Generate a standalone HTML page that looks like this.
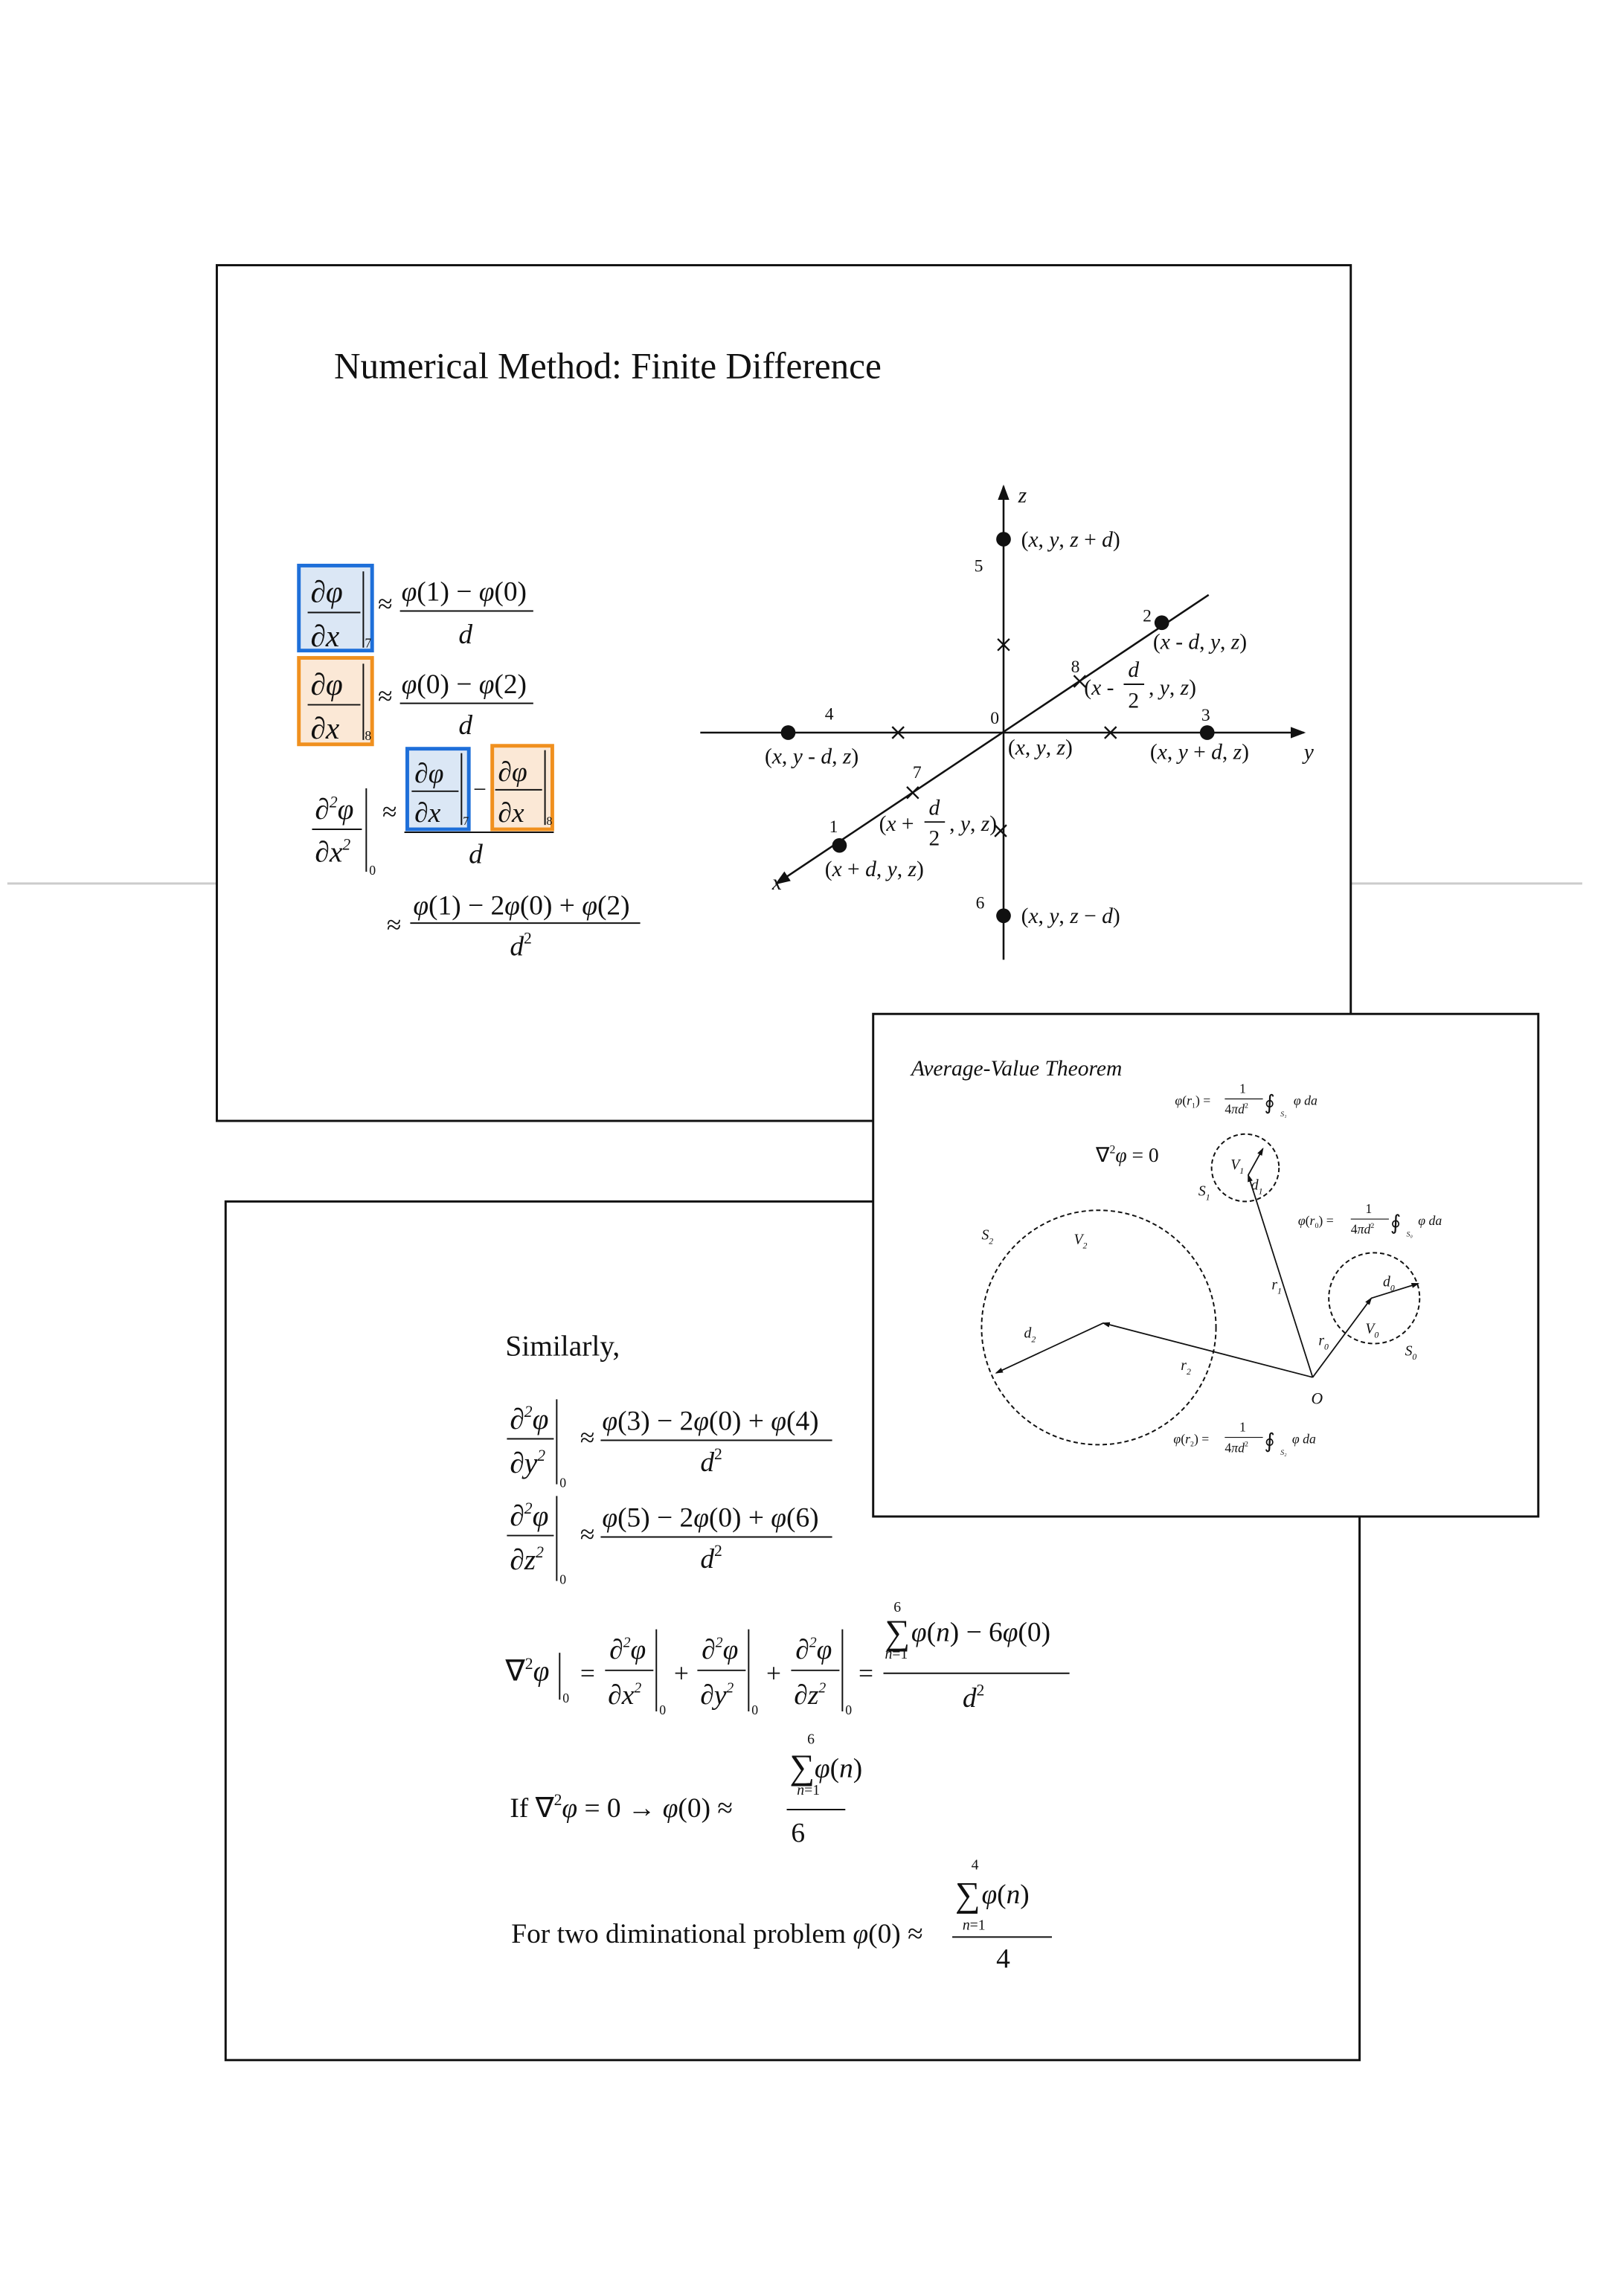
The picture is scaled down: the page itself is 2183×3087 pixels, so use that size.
<!DOCTYPE html>
<html><head><meta charset="utf-8"><title>Finite Difference</title>
<style>
html,body{margin:0;padding:0;background:#fff;}
svg{display:block;}
text{font-family:"Liberation Serif",serif;fill:#111;}
.i{font-style:italic;}
</style></head>
<body>
<svg width="2183" height="3087" viewBox="0 0 1108.5 1567" preserveAspectRatio="none" xmlns="http://www.w3.org/2000/svg">
<defs>
<marker id="ar" markerWidth="8" markerHeight="8" refX="7" refY="4" orient="auto"><path d="M0,1 L8,4 L0,7 z" fill="#111"/></marker>
<marker id="as" markerWidth="6" markerHeight="6" refX="5" refY="3" orient="auto"><path d="M0,1 L6,3 L0,5 z" fill="#111"/></marker>
</defs>
<rect width="1110" height="1570" fill="#fff"/>
<line x1="5" y1="603" x2="1080" y2="603" stroke="#ccc" stroke-width="1.5"/>

<g>
<rect x="148" y="181" width="774" height="584" fill="#fff" stroke="#111" stroke-width="1.5"/>
<text x="228" y="258" font-size="25">Numerical Method: Finite Difference</text>

<g>
<rect x="204" y="386" width="50" height="58" fill="#dbe7f5" stroke="#1e6fd9" stroke-width="2.5"/>
<text x="212" y="411" font-size="21" class="i">∂φ</text><line x1="210" y1="418" x2="246" y2="418" stroke="#111"/>
<text x="212" y="441" font-size="21" class="i">∂x</text><line x1="248" y1="390" x2="248" y2="442" stroke="#111"/><text x="249" y="442" font-size="9">7</text>
<text x="258" y="418" font-size="18">≈</text>
<text x="274" y="410" font-size="19"><tspan class="i">φ</tspan>(1) − <tspan class="i">φ</tspan>(0)</text>
<line x1="273" y1="417" x2="364" y2="417" stroke="#111"/><text x="313" y="439" font-size="19" class="i">d</text>
</g>
<g>
<rect x="204" y="449" width="50" height="59" fill="#fbe8d6" stroke="#f0901e" stroke-width="2.5"/>
<text x="212" y="474" font-size="21" class="i">∂φ</text><line x1="210" y1="481" x2="246" y2="481" stroke="#111"/>
<text x="212" y="504" font-size="21" class="i">∂x</text><line x1="248" y1="453" x2="248" y2="505" stroke="#111"/><text x="249" y="505" font-size="9">8</text>
<text x="258" y="481" font-size="18">≈</text>
<text x="274" y="473" font-size="19"><tspan class="i">φ</tspan>(0) − <tspan class="i">φ</tspan>(2)</text>
<line x1="273" y1="480" x2="364" y2="480" stroke="#111"/><text x="313" y="501" font-size="19" class="i">d</text>
</g>
<g>
<text x="215" y="559" font-size="20" class="i">∂<tspan font-size="11" dy="-8">2</tspan><tspan dy="8">φ</tspan></text>
<line x1="213" y1="566" x2="247" y2="566" stroke="#111"/>
<text x="215" y="588" font-size="20" class="i">∂x<tspan font-size="11" dy="-8">2</tspan></text>
<line x1="250" y1="538" x2="250" y2="595" stroke="#111"/><text x="252" y="597" font-size="9">0</text>
<text x="261" y="560" font-size="18">≈</text>
<rect x="278" y="511" width="42" height="55" fill="#dbe7f5" stroke="#1e6fd9" stroke-width="2.5"/>
<text x="283" y="534" font-size="19" class="i">∂φ</text><line x1="281" y1="540" x2="313" y2="540" stroke="#111"/>
<text x="283" y="561" font-size="19" class="i">∂x</text><line x1="315" y1="514" x2="315" y2="563" stroke="#111"/><text x="316" y="563" font-size="8">7</text>
<text x="323" y="544" font-size="16">−</text>
<rect x="336" y="509" width="41" height="57" fill="#fbe8d6" stroke="#f0901e" stroke-width="2.5"/>
<text x="340" y="533" font-size="19" class="i">∂φ</text><line x1="338" y1="539" x2="370" y2="539" stroke="#111"/>
<text x="340" y="561" font-size="19" class="i">∂x</text><line x1="372" y1="512" x2="372" y2="563" stroke="#111"/><text x="373" y="563" font-size="8">8</text>
<line x1="276" y1="568" x2="378" y2="568" stroke="#111"/><text x="320" y="589" font-size="19" class="i">d</text>
</g>
<g>
<text x="264" y="637" font-size="18">≈</text>
<text x="282" y="624" font-size="19"><tspan class="i">φ</tspan>(1) − 2<tspan class="i">φ</tspan>(0) + <tspan class="i">φ</tspan>(2)</text>
<line x1="280" y1="630" x2="437" y2="630" stroke="#111"/>
<text x="348" y="652" font-size="19" class="i">d<tspan font-size="11" dy="-8" font-style="normal">2</tspan></text>
</g>

<g>
<line x1="478" y1="500" x2="890" y2="500" stroke="#111" stroke-width="1.3" marker-end="url(#ar)"/>
<line x1="685" y1="655" x2="685" y2="332" stroke="#111" stroke-width="1.3" marker-end="url(#ar)"/>
<line x1="825" y1="406" x2="530" y2="603" stroke="#111" stroke-width="1.3" marker-end="url(#ar)"/>
<text x="695" y="343" font-size="15" class="i">z</text>
<text x="890" y="518" font-size="15" class="i">y</text>
<text x="527" y="607" font-size="15" class="i">x</text>
<g fill="#111">
<circle cx="685" cy="368" r="5"/><circle cx="793" cy="425" r="5"/><circle cx="824" cy="500" r="5"/>
<circle cx="538" cy="500" r="5"/><circle cx="573" cy="577" r="5"/><circle cx="685" cy="625" r="5"/>
</g>
<g stroke="#111" stroke-width="1.2">
<path d="M609,496 l8,8 M617,496 l-8,8"/><path d="M754,496 l8,8 M762,496 l-8,8"/>
<path d="M681,436 l8,8 M689,436 l-8,8"/><path d="M733,461 l8,8 M741,461 l-8,8"/>
<path d="M619,537 l8,8 M627,537 l-8,8"/><path d="M679,563 l8,8 M687,563 l-8,8"/>
</g>
<g font-size="12"><text x="665" y="390">5</text><text x="780" y="424">2</text><text x="731" y="459">8</text>
<text x="820" y="492">3</text><text x="563" y="491">4</text><text x="676" y="494">0</text>
<text x="623" y="531">7</text><text x="566" y="568">1</text><text x="666" y="620">6</text></g>
<g font-size="15">
<text x="697" y="373">(<tspan class="i">x</tspan>, <tspan class="i">y</tspan>, <tspan class="i">z</tspan> + <tspan class="i">d</tspan>)</text>
<text x="787" y="443">(<tspan class="i">x</tspan> - <tspan class="i">d</tspan>, <tspan class="i">y</tspan>, <tspan class="i">z</tspan>)</text>
<text x="740" y="474">(<tspan class="i">x</tspan> -</text><text x="770" y="462" class="i">d</text><line x1="767" y1="467" x2="781" y2="467" stroke="#111"/><text x="770" y="483">2</text><text x="784" y="474">, <tspan class="i">y</tspan>, <tspan class="i">z</tspan>)</text>
<text x="785" y="518">(<tspan class="i">x</tspan>, <tspan class="i">y</tspan> + <tspan class="i">d</tspan>, <tspan class="i">z</tspan>)</text>
<text x="522" y="521">(<tspan class="i">x</tspan>, <tspan class="i">y</tspan> - <tspan class="i">d</tspan>, <tspan class="i">z</tspan>)</text>
<text x="688" y="515">(<tspan class="i">x</tspan>, <tspan class="i">y</tspan>, <tspan class="i">z</tspan>)</text>
<text x="600" y="567">(<tspan class="i">x</tspan> +</text><text x="634" y="556" class="i">d</text><line x1="631" y1="561" x2="645" y2="561" stroke="#111"/><text x="634" y="577">2</text><text x="648" y="567">, <tspan class="i">y</tspan>, <tspan class="i">z</tspan>)</text>
<text x="563" y="598">(<tspan class="i">x</tspan> + <tspan class="i">d</tspan>, <tspan class="i">y</tspan>, <tspan class="i">z</tspan>)</text>
<text x="697" y="630">(<tspan class="i">x</tspan>, <tspan class="i">y</tspan>, <tspan class="i">z</tspan> − <tspan class="i">d</tspan>)</text>
</g>
</g>
</g>

<g>
<rect x="154" y="820" width="774" height="586" fill="#fff" stroke="#111" stroke-width="1.5"/>
<text x="345" y="925" font-size="20">Similarly,</text>
<g>
<text x="348" y="975" font-size="20" class="i">∂<tspan font-size="11" dy="-8">2</tspan><tspan dy="8">φ</tspan></text>
<line x1="346" y1="982" x2="378" y2="982" stroke="#111"/>
<text x="348" y="1005" font-size="20" class="i">∂y<tspan font-size="11" dy="-8">2</tspan></text>
<line x1="380" y1="955" x2="380" y2="1013" stroke="#111"/><text x="382" y="1015" font-size="9">0</text>
<text x="396" y="987" font-size="18">≈</text>
<text x="411" y="976" font-size="19"><tspan class="i">φ</tspan>(3) − 2<tspan class="i">φ</tspan>(0) + <tspan class="i">φ</tspan>(4)</text>
<line x1="410" y1="983" x2="568" y2="983" stroke="#111"/>
<text x="478" y="1004" font-size="19" class="i">d<tspan font-size="11" dy="-8" font-style="normal">2</tspan></text>
</g>
<g>
<text x="348" y="1041" font-size="20" class="i">∂<tspan font-size="11" dy="-8">2</tspan><tspan dy="8">φ</tspan></text>
<line x1="346" y1="1048" x2="378" y2="1048" stroke="#111"/>
<text x="348" y="1071" font-size="20" class="i">∂z<tspan font-size="11" dy="-8">2</tspan></text>
<line x1="380" y1="1021" x2="380" y2="1079" stroke="#111"/><text x="382" y="1081" font-size="9">0</text>
<text x="396" y="1053" font-size="18">≈</text>
<text x="411" y="1042" font-size="19"><tspan class="i">φ</tspan>(5) − 2<tspan class="i">φ</tspan>(0) + <tspan class="i">φ</tspan>(6)</text>
<line x1="410" y1="1049" x2="568" y2="1049" stroke="#111"/>
<text x="478" y="1070" font-size="19" class="i">d<tspan font-size="11" dy="-8" font-style="normal">2</tspan></text>
</g>
<g>
<text x="345" y="1147" font-size="20">∇<tspan font-size="11" dy="-8">2</tspan><tspan dy="8" class="i">φ</tspan></text>
<line x1="382" y1="1128" x2="382" y2="1160" stroke="#111"/><text x="384" y="1162" font-size="9">0</text>
<text x="396" y="1148" font-size="18">=</text>
<text x="416" y="1132" font-size="19" class="i">∂<tspan font-size="10" dy="-8">2</tspan><tspan dy="8">φ</tspan></text><line x1="413" y1="1140" x2="446" y2="1140" stroke="#111"/><text x="415" y="1163" font-size="19" class="i">∂x<tspan font-size="10" dy="-8">2</tspan></text>
<line x1="448" y1="1112" x2="448" y2="1168" stroke="#111"/><text x="450" y="1170" font-size="9">0</text>
<text x="460" y="1148" font-size="18">+</text>
<text x="479" y="1132" font-size="19" class="i">∂<tspan font-size="10" dy="-8">2</tspan><tspan dy="8">φ</tspan></text><line x1="476" y1="1140" x2="509" y2="1140" stroke="#111"/><text x="478" y="1163" font-size="19" class="i">∂y<tspan font-size="10" dy="-8">2</tspan></text>
<line x1="511" y1="1112" x2="511" y2="1168" stroke="#111"/><text x="513" y="1170" font-size="9">0</text>
<text x="523" y="1148" font-size="18">+</text>
<text x="543" y="1132" font-size="19" class="i">∂<tspan font-size="10" dy="-8">2</tspan><tspan dy="8">φ</tspan></text><line x1="540" y1="1140" x2="573" y2="1140" stroke="#111"/><text x="542" y="1163" font-size="19" class="i">∂z<tspan font-size="10" dy="-8">2</tspan></text>
<line x1="575" y1="1112" x2="575" y2="1168" stroke="#111"/><text x="577" y="1170" font-size="9">0</text>
<text x="586" y="1148" font-size="18">=</text>
<text x="610" y="1100" font-size="10">6</text>
<text x="604" y="1122" font-size="24">∑</text><text x="604" y="1132" font-size="10"><tspan class="i">n</tspan>=1</text>
<text x="622" y="1120" font-size="19"><tspan class="i">φ</tspan>(<tspan class="i">n</tspan>) − 6<tspan class="i">φ</tspan>(0)</text>
<line x1="603" y1="1142" x2="730" y2="1142" stroke="#111"/>
<text x="657" y="1165" font-size="19" class="i">d<tspan font-size="11" dy="-8" font-style="normal">2</tspan></text>
</g>
<g>
<text x="348" y="1240" font-size="19">If ∇<tspan font-size="11" dy="-8">2</tspan><tspan dy="8" class="i">φ</tspan> = 0 → <tspan class="i">φ</tspan>(0) ≈</text>
<text x="551" y="1190" font-size="10">6</text>
<text x="539" y="1214" font-size="24">∑</text><text x="544" y="1225" font-size="10"><tspan class="i">n</tspan>=1</text>
<text x="556" y="1213" font-size="19"><tspan class="i">φ</tspan>(<tspan class="i">n</tspan>)</text>
<line x1="537" y1="1235" x2="577" y2="1235" stroke="#111"/><text x="540" y="1257" font-size="19">6</text>
</g>
<g>
<text x="349" y="1326" font-size="19">For two diminational problem <tspan class="i">φ</tspan>(0) ≈</text>
<text x="663" y="1276" font-size="10">4</text>
<text x="652" y="1301" font-size="24">∑</text><text x="657" y="1317" font-size="10"><tspan class="i">n</tspan>=1</text>
<text x="670" y="1299" font-size="19"><tspan class="i">φ</tspan>(<tspan class="i">n</tspan>)</text>
<line x1="650" y1="1322" x2="718" y2="1322" stroke="#111"/><text x="680" y="1343" font-size="19">4</text>
</g>
</g>

<g>
<rect x="596" y="692" width="454" height="343" fill="#fff" stroke="#111" stroke-width="1.5"/>
<text x="622" y="734" font-size="15" class="i">Average-Value Theorem</text>
<text x="748" y="793" font-size="14">∇<tspan font-size="8" dy="-6">2</tspan><tspan dy="6" class="i">φ</tspan> = 0</text>
<g fill="none" stroke="#111" stroke-width="1" stroke-dasharray="3,2">
<circle cx="850" cy="797" r="23"/>
<circle cx="750" cy="906" r="80"/>
<circle cx="938" cy="886" r="31"/>
</g>
<g stroke="#111" stroke-width="0.9" fill="none">
<line x1="896" y1="940" x2="852" y2="802" marker-end="url(#as)"/>
<line x1="852" y1="802" x2="862" y2="784" marker-end="url(#as)"/>
<line x1="896" y1="940" x2="753" y2="903" marker-end="url(#as)"/>
<line x1="753" y1="903" x2="680" y2="937" marker-end="url(#as)"/>
<line x1="896" y1="940" x2="936" y2="886" marker-end="url(#as)"/>
<line x1="936" y1="886" x2="968" y2="876" marker-end="url(#as)"/>
</g>
<g font-size="10" class="i">
<text x="840" y="798" class="i">V<tspan font-size="6" dy="3">1</tspan></text>
<text x="854" y="812" class="i">d<tspan font-size="6" dy="3">1</tspan></text>
<text x="818" y="816" class="i">S<tspan font-size="6" dy="3">1</tspan></text>
<text x="670" y="846" class="i">S<tspan font-size="6" dy="3">2</tspan></text>
<text x="733" y="849" class="i">V<tspan font-size="6" dy="3">2</tspan></text>
<text x="699" y="913" class="i">d<tspan font-size="6" dy="3">2</tspan></text>
<text x="868" y="880" class="i">r<tspan font-size="6" dy="3">1</tspan></text>
<text x="806" y="935" class="i">r<tspan font-size="6" dy="3">2</tspan></text>
<text x="900" y="918" class="i">r<tspan font-size="6" dy="3">0</tspan></text>
<text x="932" y="910" class="i">V<tspan font-size="6" dy="3">0</tspan></text>
<text x="944" y="878" class="i">d<tspan font-size="6" dy="3">0</tspan></text>
<text x="959" y="925" class="i">S<tspan font-size="6" dy="3">0</tspan></text>
<text x="895" y="958" font-size="11" class="i">O</text>
</g>
<g font-size="9">
<text x="802" y="754"><tspan class="i">φ</tspan>(<tspan class="i">r</tspan><tspan font-size="5" dy="2">1</tspan><tspan dy="-2">) =</tspan></text><text x="846" y="746">1</text><line x1="836" y1="750" x2="862" y2="750" stroke="#111" stroke-width="0.6"/><text x="836" y="760">4<tspan class="i">πd</tspan><tspan font-size="5" dy="-4">2</tspan></text><text x="863" y="757" font-size="14">∮</text><text x="874" y="762" font-size="5" class="i">S₁</text><text x="883" y="754" class="i">φ da</text>
<text x="886" y="836"><tspan class="i">φ</tspan>(<tspan class="i">r</tspan><tspan font-size="5" dy="2">0</tspan><tspan dy="-2">) =</tspan></text><text x="932" y="828">1</text><line x1="922" y1="832" x2="948" y2="832" stroke="#111" stroke-width="0.6"/><text x="922" y="842">4<tspan class="i">πd</tspan><tspan font-size="5" dy="-4">2</tspan></text><text x="949" y="839" font-size="14">∮</text><text x="960" y="844" font-size="5" class="i">S₀</text><text x="968" y="836" class="i">φ da</text>
<text x="801" y="985"><tspan class="i">φ</tspan>(<tspan class="i">r</tspan><tspan font-size="5" dy="2">2</tspan><tspan dy="-2">) =</tspan></text><text x="846" y="977">1</text><line x1="836" y1="981" x2="862" y2="981" stroke="#111" stroke-width="0.6"/><text x="836" y="991">4<tspan class="i">πd</tspan><tspan font-size="5" dy="-4">2</tspan></text><text x="863" y="988" font-size="14">∮</text><text x="874" y="993" font-size="5" class="i">S₂</text><text x="882" y="985" class="i">φ da</text>
</g>
</g>
</svg>
</body></html>
